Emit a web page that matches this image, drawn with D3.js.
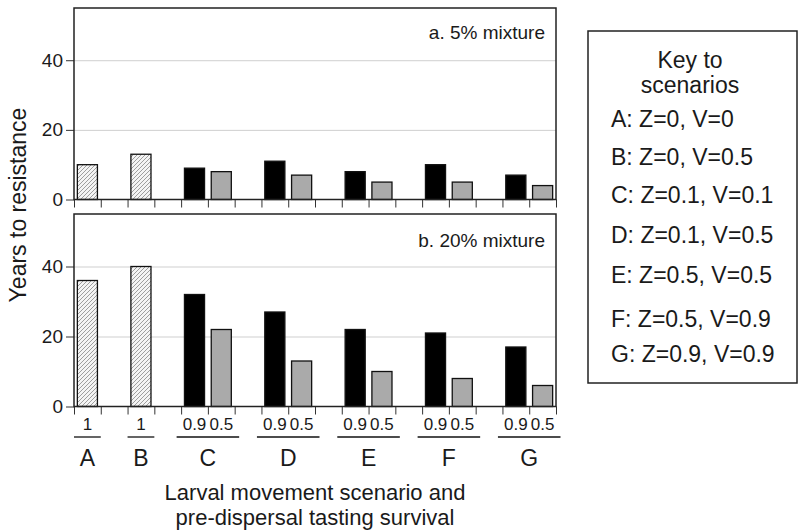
<!DOCTYPE html>
<html>
<head>
<meta charset="utf-8">
<script src="https://cdn.jsdelivr.net/npm/d3@7"></script>
<style>
  body { margin: 0; background: #fff; }
  text { font-family: "Liberation Sans", Arial, Helvetica, sans-serif; fill: #1a1a1a; }
</style>
</head>
<body>
<script>
// data
const scenarios = ["A", "B", "C", "D", "E", "F", "G"];
const survival = [["1"], ["1"], ["0.9", "0.5"], ["0.9", "0.5"], ["0.9", "0.5"], ["0.9", "0.5"], ["0.9", "0.5"]];
const years5 = [[10], [13], [9, 8], [11, 7], [8, 5], [10, 5], [7, 4]];
const years20 = [[36], [40], [32, 22], [27, 13], [22, 10], [21, 8], [17, 6]];
const yTicks = [0, 20, 40];
const gridTicks = [20, 40];
const panelLabels = ["a. 5% mixture", "b. 20% mixture"];
const keyTitle = ["Key to", "scenarios"];
const keyLines = ["A: Z=0, V=0", "B: Z=0, V=0.5", "C: Z=0.1, V=0.1", "D: Z=0.1, V=0.5",
                  "E: Z=0.5, V=0.5", "F: Z=0.5, V=0.9", "G: Z=0.9, V=0.9"];
const xTitle = ["Larval movement scenario and", "pre-dispersal tasting survival"];

const W = 800, H = 532;
const left = 74, right = 556;

const svg = d3.select("body").append("svg")
  .attr("width", W)
  .attr("height", H);

// hatch pattern for the single (survival = 1) bars
svg.append("defs").append("pattern")
  .attr("id", "hatch")
  .attr("patternUnits", "userSpaceOnUse")
  .attr("width", 4)
  .attr("height", 4)
  .call(p => p.append("rect").attr("width", 4).attr("height", 4).attr("fill", "#f4f4f4"))
  .append("path")
  .attr("d", "M-1,1 l2,-2 M0,4 l4,-4 M3,5 l2,-2")
  .attr("stroke", "#888")
  .attr("stroke-width", 0.8);

// one slot per bar, plus an empty slot between scenarios
const slots = [];
scenarios.forEach((s, i) => {
  survival[i].forEach((v, j) => slots.push({id: s + j, scen: i, k: j, surv: v}));
  if (i < scenarios.length - 1) slots.push({id: s + "gap", gap: true});
});
const barSlots = slots.filter(s => !s.gap);

const x = d3.scaleBand()
  .domain(slots.map(s => s.id))
  .range([left, right])
  .paddingInner(0.25)
  .paddingOuter(0.125);

const xEdge = d3.scaleLinear()
  .domain([0, slots.length])
  .range([left, right]);

const fillFor = v => v === "1" ? "url(#hatch)" : (v === "0.9" ? "#000" : "#aaa");

const panels = [
  {values: years5, label: panelLabels[0], top: 8, bottom: 199.5, labelY: 39},
  {values: years20, label: panelLabels[1], top: 214, bottom: 406.5, labelY: 247}
];

panels.forEach(p => {
  const y = d3.scaleLinear().domain([0, 55]).range([p.bottom, p.top]);
  const g = svg.append("g");

  // gridlines
  g.append("g")
    .attr("transform", "translate(" + left + ",0)")
    .call(d3.axisLeft(y).tickValues(gridTicks).tickSize(-(right - left)).tickFormat(""))
    .call(a => a.select(".domain").remove())
    .call(a => a.selectAll("line").attr("stroke", "#cfcfcf").attr("stroke-width", 1));

  // bars
  g.selectAll(".bar")
    .data(barSlots)
    .enter().append("rect")
    .attr("class", "bar")
    .attr("x", d => x(d.id))
    .attr("y", d => y(p.values[d.scen][d.k]))
    .attr("width", x.bandwidth())
    .attr("height", d => y(0) - y(p.values[d.scen][d.k]))
    .attr("fill", d => fillFor(d.surv))
    .attr("stroke", "#111")
    .attr("stroke-width", 1.3);

  // y axis
  g.append("g")
    .attr("transform", "translate(" + left + ",0)")
    .call(d3.axisLeft(y).tickValues(yTicks).tickSize(8).tickPadding(3))
    .call(a => a.select(".domain").remove())
    .call(a => a.selectAll("line").attr("stroke", "#333").attr("stroke-width", 1))
    .call(a => a.selectAll("text").style("font-size", "19px")
      .style("font-family", "'Liberation Sans', Arial, sans-serif").attr("fill", "#1a1a1a"));

  // slot ticks under the baseline
  g.append("g")
    .attr("transform", "translate(0," + p.bottom + ")")
    .call(d3.axisBottom(xEdge).tickValues(d3.range(slots.length + 1)).tickSize(8).tickFormat(""))
    .call(a => a.select(".domain").remove())
    .call(a => a.selectAll("line").attr("stroke", "#333").attr("stroke-width", 1));

  // frame
  g.append("rect")
    .attr("x", left)
    .attr("y", p.top)
    .attr("width", right - left)
    .attr("height", p.bottom - p.top)
    .attr("fill", "none")
    .attr("stroke", "#222")
    .attr("stroke-width", 1.5);

  g.append("text")
    .attr("x", right - 11)
    .attr("y", p.labelY)
    .attr("text-anchor", "end")
    .style("font-size", "19px")
    .text(p.label);
});

// survival labels under bars
svg.selectAll(".surv")
  .data(barSlots)
  .enter().append("text")
  .attr("class", "surv")
  .attr("x", d => x(d.id) + x.bandwidth() / 2)
  .attr("y", 430)
  .attr("text-anchor", "middle")
  .style("font-size", "17px")
  .text(d => d.surv);

// scenario groups: underline + letter
const groups = scenarios.map((s, i) => {
  const members = barSlots.filter(d => d.scen === i);
  const cx = d3.mean(members, d => x(d.id) + x.bandwidth() / 2);
  const half = members.length * x.step() / 2 + (members.length - 1) * 4.5;
  return {name: s, cx: cx, half: half};
});

svg.selectAll(".uline")
  .data(groups)
  .enter().append("line")
  .attr("x1", d => d.cx - d.half)
  .attr("x2", d => d.cx + d.half)
  .attr("y1", 437)
  .attr("y2", 437)
  .attr("stroke", "#111")
  .attr("stroke-width", 1.3);

svg.selectAll(".scen")
  .data(groups)
  .enter().append("text")
  .attr("x", d => d.cx)
  .attr("y", 466)
  .attr("text-anchor", "middle")
  .style("font-size", "23px")
  .text(d => d.name);

// axis titles
svg.append("text")
  .attr("transform", "translate(26,205) rotate(-90)")
  .attr("text-anchor", "middle")
  .style("font-size", "23px")
  .text("Years to resistance");

svg.selectAll(".xtitle")
  .data(xTitle)
  .enter().append("text")
  .attr("x", (left + right) / 2)
  .attr("y", (d, i) => 500 + i * 25)
  .attr("text-anchor", "middle")
  .style("font-size", "22px")
  .text(d => d);

// key box
const key = svg.append("g");
key.append("rect")
  .attr("x", 588)
  .attr("y", 31)
  .attr("width", 209)
  .attr("height", 352)
  .attr("fill", "none")
  .attr("stroke", "#222")
  .attr("stroke-width", 1.5);

key.selectAll(".ktitle")
  .data(keyTitle)
  .enter().append("text")
  .attr("x", 690)
  .attr("y", (d, i) => 68 + i * 24.5)
  .attr("text-anchor", "middle")
  .style("font-size", "23px")
  .text(d => d);

const keyY = [127, 165, 203, 243, 283, 327, 362];
key.selectAll(".kline")
  .data(keyLines)
  .enter().append("text")
  .attr("x", 611)
  .attr("y", (d, i) => keyY[i])
  .style("font-size", "23px")
  .text(d => d);
</script>
</body>
</html>
